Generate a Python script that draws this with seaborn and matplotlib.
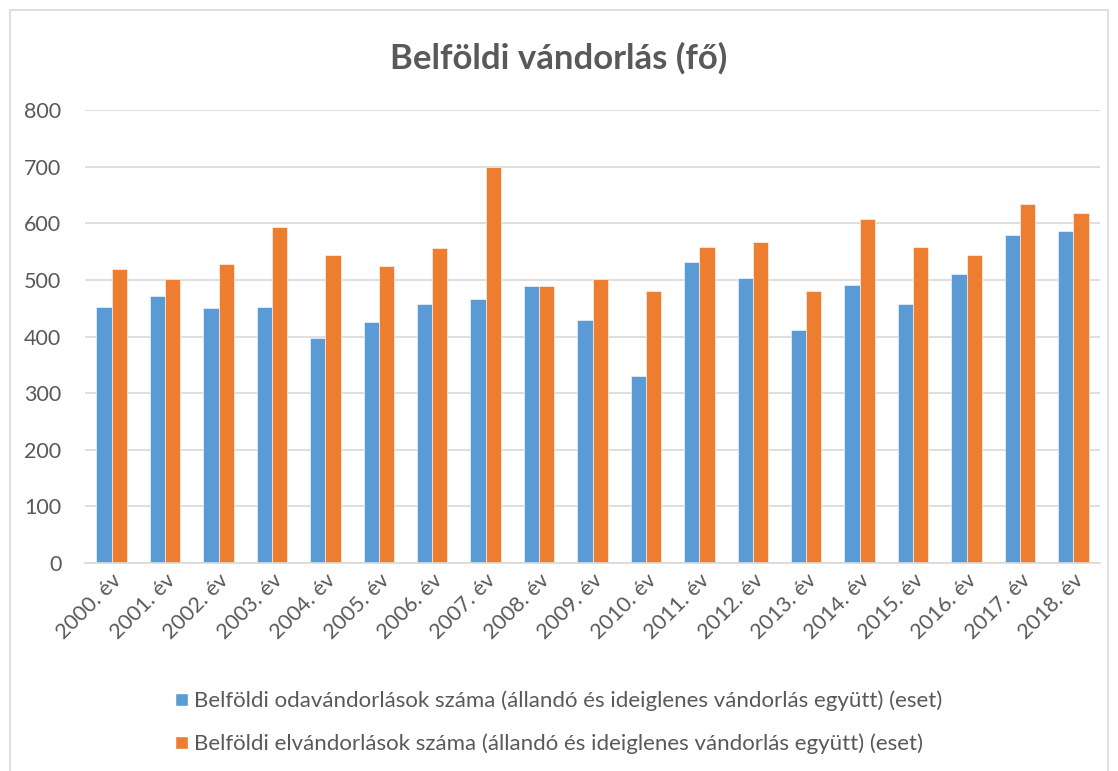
import numpy as np
import pandas as pd
import matplotlib
matplotlib.use("Agg")
import matplotlib.pyplot as plt
import seaborn as sns
from matplotlib.patches import Rectangle, Patch

# data
years = [f"{y}. év" for y in range(2000, 2019)]
odavandorlas = [452, 471, 451, 453, 398, 425, 457, 467, 489, 429,
                331, 531, 504, 411, 491, 457, 511, 579, 586]
elvandorlas = [519, 502, 528, 594, 545, 524, 556, 700, 489, 502,
               480, 558, 568, 481, 607, 558, 544, 634, 619]
series_names = [
    "Belföldi odavándorlások száma (állandó és ideiglenes vándorlás együtt) (eset)",
    "Belföldi elvándorlások száma (állandó és ideiglenes vándorlás együtt) (eset)",
]
colors = ["#5B9BD5", "#ED7D31"]
title = "Belföldi vándorlás (fő)"

df = pd.DataFrame({
    "ev": years * 2,
    "ertek": odavandorlas + elvandorlas,
    "sorozat": [series_names[0]] * len(years) + [series_names[1]] * len(years),
})

sns.set_style("white")
plt.rcParams["font.family"] = ["Lato", "DejaVu Sans"]
text_color = "#595959"
grid_color = "#D9D9D9"

fig = plt.figure(figsize=(11.18, 7.71), dpi=100)
ax = fig.add_axes([0.076, 0.270, 0.908, 0.587])

sns.barplot(data=df, x="ev", y="ertek", hue="sorozat", palette=colors,
            saturation=1, width=0.57, edgecolor="white", linewidth=0.4, ax=ax)

ax.set_ylim(0, 800)
ax.set_xlim(-0.5, len(years) - 0.5)
ax.set_yticks(range(0, 801, 100))
ax.yaxis.grid(True, color=grid_color, linewidth=1.2)
ax.set_axisbelow(True)
for s in ["top", "right", "left"]:
    ax.spines[s].set_visible(False)
ax.spines["bottom"].set_color(grid_color)
ax.spines["bottom"].set_linewidth(1.2)
ax.set_xlabel("")
ax.set_ylabel("")
ax.tick_params(axis="both", length=0, colors=text_color, labelsize=15.5)
ax.tick_params(axis="y", pad=17)
ax.tick_params(axis="x", pad=5)
plt.setp(ax.get_xticklabels(), rotation=45, ha="right", rotation_mode="anchor")

ax.legend_.remove()
handles = [Patch(facecolor=c) for c in colors]
fig.legend(handles, series_names, loc="upper center", bbox_to_anchor=(0.5, 0.13),
           ncol=1, frameon=False, fontsize=16, labelcolor=text_color,
           handlelength=0.55, handleheight=0.55, handletextpad=0.3, labelspacing=1.0)

fig.text(0.5, 0.925, title, ha="center", va="center", fontsize=25,
         fontweight="bold", color=text_color)

# chart border
fig.patches.append(Rectangle((0.009, -0.01), 0.982, 0.997, transform=fig.transFigure,
                             fill=False, edgecolor=grid_color, linewidth=1.2))

fig.savefig("out.png", dpi=100)
